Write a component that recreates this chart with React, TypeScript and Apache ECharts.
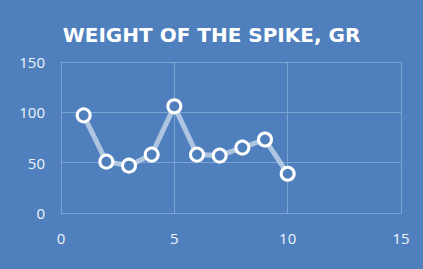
import React, { useEffect, useRef } from "react";
import * as echarts from "echarts";

const xValues = [1, 2, 3, 4, 5, 6, 7, 8, 9, 10];
const weights = [97, 51, 47, 58, 106, 58, 57, 65, 73, 39];
const titleText = "WEIGHT OF THE SPIKE, GR";

export default function App() {
  const ref = useRef<HTMLDivElement>(null);
  useEffect(() => {
    if (!ref.current) return;
    const chart = echarts.init(ref.current, undefined, { renderer: "svg" });
    const gridColor = "#7da3d4";
    chart.setOption({
      animation: false,
      backgroundColor: "#4f80bd",
      title: {
        text: titleText,
        left: "center",
        top: 20,
        textStyle: {
          color: "#ffffff",
          fontFamily: "DejaVu Sans",
          fontWeight: "bold",
          fontSize: 20,
        },
      },
      grid: { left: 61, right: 22, top: 62, bottom: 56 },
      xAxis: {
        type: "value",
        min: 0,
        max: 15,
        interval: 5,
        axisLine: { show: true, lineStyle: { color: gridColor, width: 1 } },
        axisTick: { show: false },
        splitLine: { show: true, lineStyle: { color: gridColor, width: 1 } },
        axisLabel: {
          color: "#eef3fa",
          fontFamily: "Open Sans",
          fontSize: 15,
          margin: 17,
        },
      },
      yAxis: {
        type: "value",
        min: 0,
        max: 150,
        interval: 50,
        axisLine: { show: true, lineStyle: { color: gridColor, width: 1 } },
        axisTick: { show: false },
        splitLine: { show: true, lineStyle: { color: gridColor, width: 1 } },
        axisLabel: {
          color: "#eef3fa",
          fontFamily: "Open Sans",
          fontSize: 15,
          margin: 16,
        },
      },
      series: [
        {
          type: "line",
          data: xValues.map((x, i) => [x, weights[i]]),
          symbol: "circle",
          symbolSize: 13,
          lineStyle: { color: "rgba(215,226,242,0.7)", width: 5 },
          itemStyle: { color: "#4f80bd", borderColor: "#ffffff", borderWidth: 3 },
        },
      ],
    });
    return () => chart.dispose();
  }, []);
  return <div ref={ref} style={{ width: 423, height: 269, position: "absolute", left: 0, top: 0 }} />;
}
